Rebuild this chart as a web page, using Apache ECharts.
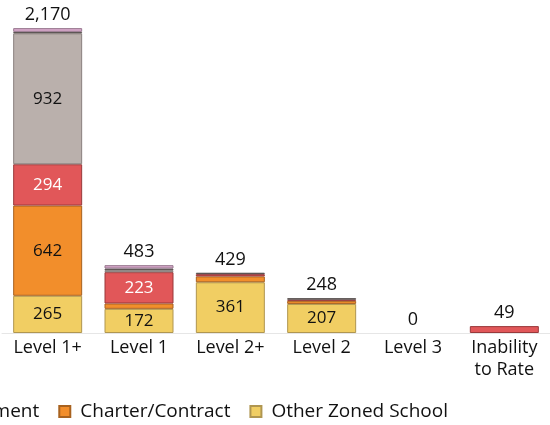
<!DOCTYPE html>
<html>
<head>
<meta charset="utf-8">
<script src="https://cdn.jsdelivr.net/npm/echarts@6/dist/echarts.min.js"></script>
<style>
  html, body { margin: 0; padding: 0; background: #fff; }
  #chart { width: 550px; height: 425px; }
</style>
</head>
<body>
<div id="chart"></div>
<script>
// Rating categories along the x axis
const categories = ['Level 1+', 'Level 1', 'Level 2+', 'Level 2', 'Level 3', 'Inability\nto Rate'];

// Stacked segments, bottom to top
const otherZoned   = [265, 172, 361, 207, 0, 0];
const charter      = [642, 38, 42, 22, 0, 0];
const placement    = [294, 223, 16, 8, 0, 49];
const sameSchool   = [932, 14, 0, 0, 0, 0];
const unknown      = [10, 12, 10, 11, 0, 0];
const other        = [27, 24, 0, 0, 0, 0];

const seriesDefs = [
  { name: 'Other Zoned School',     data: otherZoned, color: '#F1CE63', border: '#B09650', text: '#111' },
  { name: 'Charter/Contract',       data: charter,    color: '#F28E2B', border: '#A8621F', text: '#111' },
  { name: 'Alternative Placement',  data: placement,  color: '#E15759', border: '#99393B', text: '#fff' },
  { name: 'Same School',            data: sameSchool, color: '#BAB0AC', border: '#8A817E', text: '#111' },
  { name: 'Unknown',                data: unknown,    color: '#79706E', border: '#5A5351', text: '#fff' },
  { name: 'Other',                  data: other,      color: '#D4A6C8', border: '#9A7A91', text: '#111' }
];

const totals = categories.map((_, i) => seriesDefs.reduce((s, d) => s + d.data[i], 0));

const FONT = 'Open Sans';

const series = seriesDefs.map(d => ({
  name: d.name,
  type: 'bar',
  stack: 'total',
  barWidth: 69,
  // empty segments are left out so they leave no outline behind
  data: d.data.map(v => (v === 0 ? '-' : v)),
  itemStyle: { color: d.color, borderColor: d.border, borderWidth: 1 },
  label: {
    show: true,
    position: 'inside',
    color: d.text,
    fontFamily: FONT,
    fontSize: 17,
    formatter: p => (p.value >= 100 ? p.value.toLocaleString('en-US') : '')
  },
  emphasis: { disabled: true }
}));

// Zero-height cap carrying the stack totals above each column
series.push({
  name: 'Total',
  type: 'bar',
  stack: 'total',
  barWidth: 69,
  data: totals.map(() => 0),
  itemStyle: { color: 'transparent', borderWidth: 0 },
  label: {
    show: true,
    position: 'top',
    distance: 4,
    color: '#111',
    fontFamily: FONT,
    fontSize: 18,
    formatter: p => totals[p.dataIndex].toLocaleString('en-US')
  },
  emphasis: { disabled: true }
});

const chart = echarts.init(document.getElementById('chart'), null, { renderer: 'canvas' });
chart.setOption({
  animation: false,
  grid: { left: 2, right: 0, top: 0, bottom: 92, containLabel: false },
  legend: {
    data: seriesDefs.map(d => d.name).reverse(),
    orient: 'horizontal',
    bottom: -1,
    right: 97,
    width: 3000,
    icon: 'rect',
    itemWidth: 11,
    itemHeight: 11,
    itemGap: 19,
    textStyle: { fontFamily: FONT, fontSize: 19, color: '#111', padding: [0, 0, 0, 5] }
  },
  xAxis: {
    type: 'category',
    data: categories,
    axisLine: { show: true, lineStyle: { color: '#e6e6e6' } },
    axisTick: { show: false },
    axisLabel: { fontFamily: FONT, fontSize: 18, color: '#111', margin: 4, lineHeight: 22 }
  },
  yAxis: {
    type: 'value',
    min: 0,
    max: 2370,
    show: false,
    splitLine: { show: false }
  },
  series: series
});
</script>
</body>
</html>
